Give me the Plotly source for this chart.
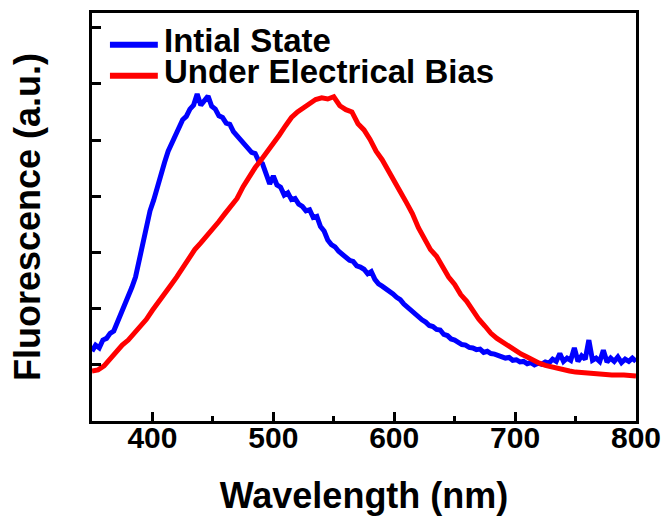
import plotly.graph_objects as go

# Spettri di fluorescenza: stato iniziale vs sotto bias elettrico

blue_nm = [350, 353, 356, 359, 362, 365, 368, 371, 374, 377, 380, 383, 386, 389, 392, 395, 398,
           401, 404, 407, 410, 413, 416, 419, 422, 425, 428, 431, 434, 437, 440, 443, 446, 449,
           452, 455, 458, 461, 464, 467, 470, 473, 476, 479, 482, 485, 488, 491, 494, 497, 500,
           503, 506, 509, 512, 515, 518, 521, 524, 527, 530, 533, 536, 539, 542, 545, 548, 551,
           554, 557, 560, 563, 566, 569, 572, 575, 578, 581, 584, 587, 590, 593, 596, 599, 602,
           605, 608, 611, 614, 617, 620, 623, 626, 629, 632, 635, 638, 641, 644, 647, 650, 653,
           656, 659, 662, 665, 668, 671, 674, 677, 680, 683, 686, 689, 692, 695, 698, 701, 704,
           707, 710, 713, 716, 719, 722, 725, 728, 731, 734, 737, 740, 743, 746, 749, 752, 755,
           758, 761, 764, 767, 770, 773, 776, 779, 782, 785, 788, 791, 794, 797, 800]
blue_val = [1.24, 1.35, 1.30, 1.44, 1.47, 1.56, 1.60, 1.75, 1.92, 2.06, 2.22, 2.38, 2.56, 2.86,
            3.18, 3.46, 3.74, 3.93, 4.17, 4.38, 4.60, 4.80, 4.93, 5.10, 5.22, 5.36, 5.42, 5.55,
            5.62, 5.82, 5.62, 5.70, 5.78, 5.60, 5.55, 5.43, 5.40, 5.30, 5.28, 5.15, 5.08, 5.02,
            4.92, 4.88, 4.78, 4.76, 4.62, 4.58, 4.40, 4.22, 4.36, 4.20, 4.16, 4.02, 4.06, 3.94,
            3.96, 3.86, 3.82, 3.74, 3.76, 3.62, 3.64, 3.46, 3.38, 3.22, 3.14, 3.10, 3.02, 2.96,
            2.92, 2.86, 2.84, 2.76, 2.74, 2.70, 2.62, 2.66, 2.52, 2.44, 2.40, 2.36, 2.30, 2.26,
            2.20, 2.16, 2.08, 2.02, 1.96, 1.92, 1.86, 1.80, 1.76, 1.70, 1.68, 1.63, 1.62, 1.54,
            1.52, 1.46, 1.44, 1.40, 1.36, 1.35, 1.31, 1.30, 1.27, 1.28, 1.22, 1.24, 1.20, 1.19,
            1.16, 1.15, 1.12, 1.13, 1.08, 1.09, 1.05, 1.06, 1.02, 1.04, 1.00, 1.03, 1.01, 1.05,
            1.03, 1.10, 1.06, 1.20, 1.06, 1.12, 1.08, 1.30, 1.06, 1.16, 1.10, 1.44, 1.08, 1.12,
            1.06, 1.26, 1.05, 1.12, 1.06, 1.14, 1.04, 1.10, 1.06, 1.12, 1.06]

red_nm = [350, 355, 360, 365, 370, 375, 380, 385, 390, 395, 400, 405, 410, 415, 420, 425, 430,
          435, 440, 445, 450, 455, 460, 465, 470, 475, 480, 485, 490, 495, 500, 505, 510, 515,
          520, 525, 530, 535, 540, 545, 550, 555, 560, 565, 570, 575, 580, 585, 590, 595, 600,
          605, 610, 615, 620, 625, 630, 635, 640, 645, 650, 655, 660, 665, 670, 675, 680, 685,
          690, 695, 700, 705, 710, 715, 720, 725, 730, 735, 740, 745, 750, 760, 770, 780, 790, 800]
red_val = [0.89, 0.91, 0.98, 1.10, 1.24, 1.35, 1.44, 1.56, 1.69, 1.81, 1.97, 2.13, 2.27, 2.41,
           2.56, 2.73, 2.91, 3.05, 3.17, 3.29, 3.41, 3.55, 3.69, 3.81, 3.96, 4.17, 4.35, 4.51,
           4.65, 4.79, 4.95, 5.09, 5.25, 5.40, 5.50, 5.57, 5.65, 5.72, 5.75, 5.73, 5.77, 5.61,
           5.54, 5.50, 5.29, 5.18, 5.01, 4.80, 4.65, 4.47, 4.30, 4.08, 3.89, 3.69, 3.44, 3.23,
           3.05, 2.93, 2.73, 2.56, 2.43, 2.25, 2.13, 1.95, 1.81, 1.69, 1.56, 1.47, 1.40, 1.31,
           1.24, 1.19, 1.14, 1.08, 1.03, 0.99, 0.96, 0.94, 0.91, 0.89, 0.87, 0.85, 0.83, 0.82,
           0.82, 0.80]

legend_names = ["Intial State", "Under Electrical Bias"]
colors = ["#0000FF", "#FF0000"]

FONT = "Liberation Sans"

fig = go.Figure()
fig.add_trace(go.Scatter(x=blue_nm, y=blue_val, mode="lines", name=legend_names[0],
                         line=dict(color=colors[0], width=5), showlegend=False))
fig.add_trace(go.Scatter(x=red_nm, y=red_val, mode="lines", name=legend_names[1],
                         line=dict(color=colors[1], width=5), showlegend=False))

# legenda disegnata a mano (righe piu' strette della legenda di plotly)
leg_y = [0.922, 0.846]
for i in range(2):
    fig.add_shape(type="line", xref="paper", yref="paper", x0=0.033, x1=0.121,
                  y0=leg_y[i], y1=leg_y[i], line=dict(color=colors[i], width=6))
    fig.add_annotation(xref="paper", yref="paper", x=0.128, y=leg_y[i] + 0.01,
                       text=legend_names[i], showarrow=False, xanchor="left", yanchor="middle",
                       font=dict(family=FONT, size=33, color="black", weight="bold"))

fig.update_xaxes(
    range=[350, 800], tickmode="array", tickvals=[400, 500, 600, 700, 800],
    ticks="inside", ticklen=9, tickwidth=3, tickcolor="black",
    minor=dict(tickvals=[450, 550, 650, 750], ticks="inside", ticklen=5, tickwidth=3, tickcolor="black"),
    showline=True, linewidth=3, linecolor="black", mirror=True, showgrid=False, zeroline=False,
    automargin=False, ticklabelstandoff=-12,
    tickfont=dict(family=FONT, size=30, color="black", weight="bold"),
    title=dict(text="Wavelength (nm)", standoff=30,
               font=dict(family=FONT, size=36, color="black", weight="bold"))
)
fig.update_yaxes(
    range=[0, 7.26], tickmode="array", tickvals=[1, 2, 3, 4, 5, 6, 7], showticklabels=False,
    ticks="inside", ticklen=9, tickwidth=3, tickcolor="black",
    showline=True, linewidth=3, linecolor="black", mirror=True, showgrid=False, zeroline=False,
    automargin=False,
    title=dict(text="Fluorescence (a.u.)", standoff=38,
               font=dict(family=FONT, size=36, color="black", weight="bold"))
)
fig.update_layout(
    width=666, height=516,
    margin=dict(l=92, r=30, t=13, b=95),
    plot_bgcolor="white", paper_bgcolor="white",
    showlegend=False
)

# niente margine del body, cosi' la figura parte da (0,0)
fig.write_html("out.html", config={"displayModeBar": False},
               post_script="document.body.style.margin='0px';")
